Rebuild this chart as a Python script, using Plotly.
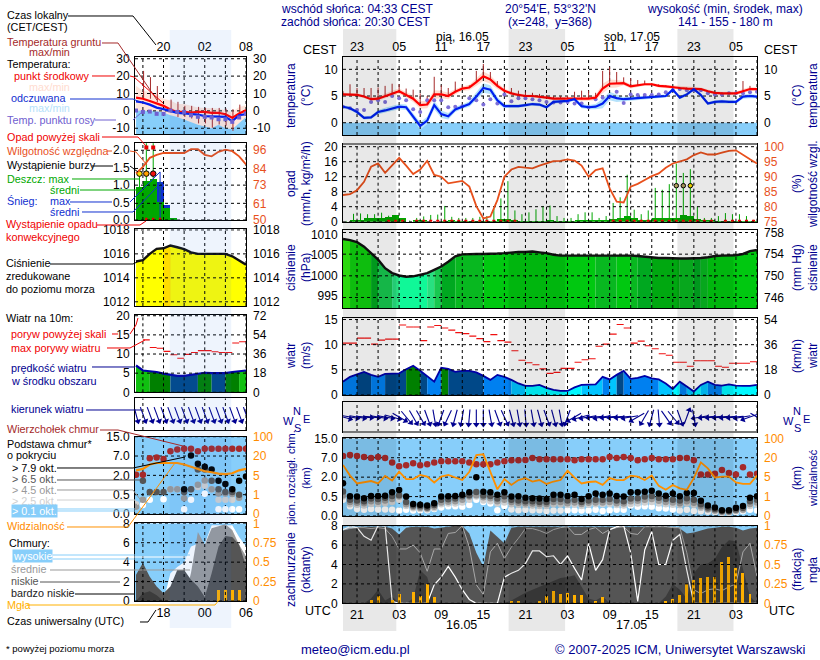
import numpy as np
import plotly.graph_objects as go

# ---------- main panel data (hourly, hour 0 = 19 UTC 15.05) ----------
t_mid = [5.3,5.3,5.2,4.9,4.4,4.5,5.0,5.5,5.9,5.2, 4.5,3.3,3.4,5.3,5.3,5.0,5.8,6.4,6.6,7.6,
         8.7,8.1,6.9,6.0,5.5,5.2,5.0,5.0,4.9,4.7, 4.5,4.5,4.4,4.4,4.4,4.5,4.7,6.4,7.3,7.3,
         7.4,6.8,7.0,7.2,7.2,6.9,6.8,6.6,6.5,6.4, 6.3,6.3,5.9,5.6,5.5,5.5,5.5,5.9,6.3,6.3]
t_felt = [3.0,2.7,2.0,0.9,1.0,2.0,2.3,2.7,3.0,2.9, 1.2,-0.6,0.4,3.3,1.6,1.2,2.5,3.0,3.5,4.9,
          6.5,6.2,4.2,3.1,3.1,3.1,3.3,3.5,3.4,2.9, 3.9,4.0,4.1,4.4,3.1,2.9,3.0,3.6,5.0,4.6,
          4.4,4.5,4.6,4.7,4.8,4.9,5.0,6.2,4.7,5.3, 6.3,5.2,3.6,3.9,4.0,3.9,3.9,4.9,5.0,4.9]
t_dew = [3.0,2.7,2.4,2.4,3.9,4.2,3.9,5.0,4.6,4.2, 2.5,2.0,4.2,4.2,4.2,2.9,3.0,3.1,4.6,4.2,
         3.4,4.4,3.6,5.3,4.0,4.6,4.6,4.4,4.2,3.9, 3.8,3.8,3.9,3.6,3.6,2.9,4.4,4.7,4.9,5.8,
         3.7,5.3,5.2,5.2,5.2,5.3,5.7,6.1,6.3,6.1, 6.1,6.1,5.5,5.3,5.3,5.5,5.5,5.5,5.7,5.8]
t_ground = [5.9,7.2,6.5,6.5,6.5,6.6,6.9,7.3,7.2,6.4, 6.2,5.5,5.0,8.6,7.0,6.5,7.7,7.0,7.0,9.7,
            11.0,9.5,7.8,6.8,6.5,6.0,5.8,5.6,5.4,5.2, 5.0,5.0,5.0,5.8,6.0,6.0,5.6,9.7,10.4,9.5,
            8.5,8.3,8.0,7.9,7.4,7.2,7.0,6.7,6.7,6.6, 6.5,6.3,6.0,5.8,5.7,5.7,5.7,7.8,6.9,6.5]
t_spread = [0.3,0.3,0.3,0.3,0.3,0.4,0.5,0.5,0.5,0.5, 0.6,0.7,0.7,0.8,0.7,0.6,0.5,0.4,0.5,0.7,
            0.9,0.8,0.6,0.4,0.3,0.3,0.3,0.3,0.3,0.3, 0.3,0.3,0.3,0.3,0.4,0.4,0.5,0.9,0.8,0.7,
            0.4,0.4,0.3,0.3,0.3,0.3,0.3,0.3,0.3,0.3, 0.3,0.3,0.3,0.3,0.3,0.3,0.3,0.4,0.4,0.3]
rh = [83.9,84.2,85.5,88.3,93.3,94.4,91.3,93.7,96.3,93.7, 90.9,92.4,95.3,90.6,90.0,87.8,88.1,88.6,86.7,80.2,
      76.1,76.7,82.2,90.0,92.4,93.3,93.0,92.8,93.7,94.4, 95.2,95.3,95.8,95.4,93.7,90.0,92.2,92.8,86.1,81.7,
      81.4,86.7,87.6,88.9,90.2,91.1,93.0,94.4,95.0,95.8, 97.2,98.1,97.4,97.4,98.0,98.6,98.8,97.2,95.8,94.4]
rain_mean = [0,0.2,0.5,0.9,1.1,1.1,1.2,1.8,0.9,0, 0.2,0.2,0,0,0.1,0.2,0.1,0.1,0.1,0.1,
             0.1,0.1,0.6,0.6,0.4,0.1,0.1,0.1,0.1,0.3, 0.1,0.1,0.1,0.4,0.4,0.4,0.4,0.4,0.8,1.0,
             1.4,0.9,0.4,0.3,0.9,0.9,1.0,1.1,1.9,1.4, 0.7,0.3,0.2,0.1,0.1,0.1,0.1,0.1,0.1,0.1]
rain_max = [0.2,2.1,2.2,2.0,2.0,2.4,1.6,1.0,0.3,0.3, 1.0,1.4,1.8,1.9,4.2,1.3,1.0,1.0,1.0,1.3,
            1.5,3.5,6.2,10.8,3.0,2.0,2.5,3.3,4.2,4.3, 1.5,1.0,1.0,2.0,2.5,2.5,1.0,1.5,5.0,6.5,
            12.5,3.2,2.0,3.0,9.0,8.5,10.0,15.5,13.0,14.0, 4.0,1.0,1.0,1.5,2.3,2.0,2.0,1.5,0.5,0.3]
convective = [0,0,0,0,0,0,1,1,1,0, 1,1,1,1,1,1,1,1,1,1, 1,1,1,1,1,0,0,0,0,0,
              0,0,0,0,0,0,0,0,1,1, 1,1,1,1,1,1,1,1,1,1, 1,1,1,0,1,1,1,1,1,1]
pressure = [1009.0,1008.7,1008.2,1007.1,1005.5,1003.9,1001.8,1000.6,1000.0,999.7,
            999.8,1000.2,1000.6,1001.4,1002.2,1003.4,1004.7,1005.2,1005.3,1005.3,
            1005.3,1005.3,1005.4,1005.5,1005.7,1005.8,1005.8,1005.9,1005.7,1005.5,
            1005.1,1004.9,1004.9,1004.9,1004.9,1004.9,1004.9,1004.9,1005.0,1005.0,
            1005.0,1004.9,1004.8,1004.6,1004.4,1004.3,1004.3,1004.2,1004.2,1004.2,
            1004.2,1004.3,1004.5,1004.8,1004.9,1004.9,1005.0,1005.3,1006.0,1006.3]
pressure_col = [0,1,1,1,2,3,3,4,5,5, 5,5,4,3,2,2,6,6,6,6, 7,7,7,7,7,7,7,7,7,7,
                7,7,7,7,7,7,6,6,6,7, 7,6,2,2,8,8,8,8,6,6, 2,6,7,7,7,7,7,7,7,7]
wind = [2.65,3.6,4.1,4.6,4.0,3.6,4.2,4.2,4.3,5.1, 5.8,4.8,3.8,2.65,5.4,5.2,4.6,4.8,4.8,4.5,
        3.8,3.0,4.0,3.6,3.0,2.3,1.8,1.8,2.0,1.4, 1.0,0.8,0.8,1.5,2.0,2.0,2.1,3.6,3.1,4.0,
        4.8,3.2,3.4,3.8,3.3,3.1,2.3,1.2,2.65,1.7, 0.7,2.0,2.65,2.0,1.85,2.1,1.85,1.8,1.8,2.0]
wind_col = [2,2,3,3,2,2,3,3,3,4, 4,3,2,2,4,3,3,3,3,3, 2,2,2,2,1,1,0,0,0,0,
            0,0,0,0,1,1,1,2,1,3, 2,2,2,2,2,1,1,0,2,1, 0,1,2,2,0,0,0,0,0,0]
gust = [10.3,10.3,11.3,11.3,10.1,10.9,11.1,11.1,13.9,13.5, 13.5,10.8,13.5,13.8,13.3,12.9,12.4,12.2,11.7,11.2,
        10.6,12.0,10.8,10.5,8.8,6.9,6.4,6.0,5.2,4.3, 4.5,5.3,5.3,6.5,7.0,7.2,9.7,10.1,12.1,14.0,
        13.3,10.3,10.7,9.8,9.2,8.2,7.9,6.5,6.5,5.7, 6.8,6.8,6.8,5.7,5.5,6.3,6.3,6.3,6.6,6.6]
wind_dir = [285,280,280,275,275,280,280,285,300,320, 330,330,340,350,20,25,15,10,5,0,
            0,350,340,335,345,350,355,350,345,340, 345,350,20,60,75,80,85,80,85,85,
            85,80,60,30,15,355,325,320,340,200, 350,80,85,85,85,85,85,80,70,300]
cloud_top = [7.7,8.1,7.7,7.3,6.95,7.3,6.95,5.8,4.8,5.05, 5.55,5.05,5.3,5.8,6.1,6.1,6.1,6.1,5.8,5.3,
             5.3,5.3,5.8,6.1,6.35,6.35,6.4,6.95,6.6,6.6, 6.6,6.6,6.6,6.35,6.6,6.6,6.6,6.6,7.3,6.95,
             7.3,6.95,6.35,6.6,6.95,6.6,6.6,6.6,6.95,6.95, 6.35,2.65,2.65,2.9,3.85,3.05,2.65,4.55,2.65,2.9]
base_79 = [1.52,0.52,0.50,0.455,0.54,0.54,0.56,0.83,1.01,0.50, 0.31,0.29,0.27,0.33,0.51,0.52,0.54,0.65,0.83,2.0,
           0.88,0.83,0.65,0.83,0.51,0.52,0.47,0.455,0.45,0.44, 0.65,0.65,0.54,0.65,0.44,0.52,0.73,0.65,0.73,0.54,
           0.50,0.83,0.83,0.88,0.95,0.73,0.56,0.73,0.52,0.77, 0.77,0.39,0.27,0.22,0.15,0.15,0.21,0.26,0.47,0.52]
base_65 = [0.90,0.42,0.40,0.38,0.45,0.44,0.47,0.55,0.60,0.36, 0.27,0.25,0.22,0.28,0.42,0.43,0.45,0.52,0.60,0.85,
           0.58,0.55,0.45,0.52,0.42,0.40,0.38,0.38,0.36,0.36, 0.44,0.44,0.40,0.42,0.36,0.40,0.42,0.42,0.44,0.40,
           0.38,0.45,0.46,0.50,0.55,0.47,0.44,0.42,0.40,0.46, 0.42,0.30,0.22,0.18,0.13,0.13,0.17,0.21,0.38,0.42]
base_45 = [0.60,0.36,0.34,0.33,0.38,0.37,0.40,0.44,0.50,0.30, 0.23,0.21,0.19,0.24,0.35,0.37,0.38,0.42,0.50,0.60,
           0.48,0.46,0.38,0.42,0.36,0.34,0.33,0.32,0.31,0.31, 0.36,0.36,0.33,0.35,0.31,0.34,0.35,0.35,0.36,0.33,
           0.32,0.38,0.39,0.42,0.44,0.39,0.36,0.35,0.33,0.38, 0.34,0.25,0.18,0.15,0.11,0.11,0.14,0.17,0.31,0.35]
base_25 = [0.50,0.30,0.29,0.27,0.31,0.31,0.33,0.36,0.42,0.26, 0.20,0.18,0.17,0.20,0.30,0.32,0.32,0.35,0.42,0.50,
           0.40,0.38,0.32,0.35,0.30,0.29,0.28,0.27,0.26,0.26, 0.30,0.30,0.28,0.29,0.26,0.29,0.30,0.30,0.31,0.28,
           0.27,0.31,0.32,0.35,0.36,0.32,0.30,0.29,0.28,0.32, 0.28,0.21,0.16,0.13,0.09,0.09,0.12,0.15,0.26,0.29]
base_01 = [0.42,0.25,0.18,0.16,0.18,0.17,0.17,0.16,0.14,0.16, 0.14,0.15,0.15,0.18,0.22,0.25,0.25,0.24,0.28,0.42,
           0.36,0.32,0.15,0.26,0.17,0.15,0.16,0.15,0.15,0.13, 0.14,0.14,0.15,0.15,0.14,0.14,0.16,0.13,0.15,0.16,
           0.16,0.27,0.24,0.25,0.24,0.20,0.19,0.17,0.14,0.16, 0.13,0.12,0.11,0.10,0.08,0.08,0.10,0.12,0.16,0.14]
visibility = [14.4,6.2,3.7,3.9,4.2,3.7,5.9,4.3,9.2,4.6, 4.6,6.7,5.4,3.9,5.4,6.7,5.0,4.4,9.2,31.0,
              34.0,9.2,2.5,4.6,3.4,4.4,4.8,4.1,4.4,3.6, 4.1,4.4,10.0,4.9,3.7,4.0,4.1,3.4,4.8,4.4,
              4.4,6.2,5.4,4.4,6.2,3.2,2.4,3.4,2.7,2.4, 4.8,16.4,11.8,4.9,5.4,5.4,3.9,3.6,3.6,6.2]
cloud_low = [7.5,7.7,7.9,7.9,7.9,7.9,7.9,7.7,7.1,7.8, 7.9,7.9,7.9,7.7,7.8,7.9,8.0,8.0,7.2,5.2,
             3.8,7.5,6.9,6.2,7.8,7.9,7.9,7.9,7.9,7.9, 7.9,7.9,7.9,7.9,7.9,7.9,7.9,7.9,7.9,7.9,
             7.9,7.9,7.9,7.9,7.9,7.9,7.9,7.9,7.7,7.2, 7.3,7.5,7.7,7.8,7.9,7.9,7.8,7.5,7.7,7.8]
cloud_high = [7.6,7.9,7.8,6.9,6.5,8.0,8.0,0.2,0,0, 0,0,0,1.9,2.7,3.8,2.7,1.4,0.4,0,
              0,0,0,2.7,3.1,3.4,4.1,5.4,5.4,4.8, 4.9,4.0,4.9,3.6,2.4,6.2,3.4,4.5,7.6,7.9,
              8.0,5.2,0.2,5.5,7.4,4.0,4.0,6.5,7.1,3.4, 0,0,0,0,0,0,0,0,0,0]
cloud_mid = [7.6,7.7,7.8,7.8,7.7,7.8,7.7,6.9,5.6,5.6, 6.0,5.2,3.3,5.6,5.6,7.2,7.3,8.0,5.8,1.9,
             0.9,5.3,6.2,4.6,5.8,6.7,7.7,7.7,7.5,7.2, 7.6,7.8,7.9,7.1,7.1,7.6,7.8,7.2,7.6,7.8,
             7.9,7.2,7.1,7.9,7.9,7.9,7.9,7.8,7.8,5.2, 1.4,1.0,1.4,1.5,1.3,1.7,2.0,5.3,6.2,2.8]
cloud_vlow = [0,0,0,0,0.5,1.4,0.3,0.7,0,0, 0.5,3.4,2.7,0,0,0,0,0,0,0,
              0,0,0,0,0.3,0.7,1.1,1.4,1.7,2.0, 2.3,2.6,2.7,2.9,1.7,0.5,0.3,0.7,0,0,
              0,0,0,0,0,0,0.7,2.0,1.4,0.5, 3.1,4.0,4.1,4.6,5.8,6.5,6.4,3.4,0.7,0]
fog = [0,0,0,0,0.05,0.1,0,0.05,0.13,0, 0.15,0.1,0.25,0.08,0,0,0,0,0,0,
       0,0,0,0,0.04,0.04,0,0,0.04,0.1, 0.16,0.12,0.14,0.11,0.11,0,0.04,0.09,0,0,
       0,0,0,0,0,0,0.03,0.06,0.11,0.25, 0.3,0.33,0.34,0.34,0.54,0.6,0.46,0.4,0.12,0]

# ---------- left (legend) panel data, hours 14..30 UTC ----------
l_mid = [7.6,7.0,5.7,4.2,2.9,0.8,-0.6,-0.6,-1.0,-0.6,-0.6,-1.1,-1.1,-1.9,-4.0,-1.5,0.4]
l_felt = [5.5,4.8,3.6,1.9,1.0,-0.2,-1.1,-1.5,-1.9,-2.1,-3.0,-3.0,-3.4,-3.4,-5.9,-2.5,-1.9]
l_dew = [0.2,-0.6,-0.4,-1.7,-1.7,0.2,-0.6,-0.6,-2.5,-3.4,-3.4,-3.8,-4.8,-4.8,-6.3,-3.8,-1.5]
l_top = [14.5,11.5,11.0,9.6,7.0,6.0,4.0,4.0,3.0,2.0,1.7,1.3,1.3,0.4,-0.6,2.3,3.2]
l_bottom = [0.2,0.2,0.2,-0.2,-1.0,-2.5,-3.5,-5.0,-6.7,-8.0,-9.0,-10.0,-8.0,-10.0,-10.5,-7.0,-3.5]
l_gmax = [None,23.0,19.4,14.3,None,6.5,5.2,2.9,2.9,2.3,1.7,1.7,1.7,1.3,1.0,3.6,None]
l_gmin = [None,7.4,7.0,5.0,None,-1.0,-3.5,-3.5,-4.4,-7.2,-7.2,-9.7,-7.8,-8.5,-11.5,-4.0,None]
l_rh = [80.7,85.0,91.0,93.0,94.2,94.2,94.2,94.2,96.7,96.7,93.0,92.0,95.0,96.4,95.4,92.0,86.6]
l_rain = [0.93,1.10,1.17,0.5,0.33,0.05,0,0,0,0,0,0,0,0,0,0,0]
l_snow = [0,0,0,0.58,0.10,0,0,0,0,0,0,0,0,0,0,0,0]
l_rain_max = [1.33,2.3,2.3,1.1]
l_snow_max = [0,0,0,1.38]
l_pressure = [1015.36,1015.47,1016.0,1016.42,1016.47,1016.7,1016.55,1016.4,1016.13,1016.0,1016.0,1016.0,1016.0,1016.0,1015.8,1015.45,1015.1]
l_wind = [7.0,5.7,5.5,5.3,4.9,4.5,4.3,4.3,4.6,5.0,5.1,5.0,5.0,5.0,5.3,5.5,5.7]
l_wind_col = [5,5,4,4,4,3,3,3,3,4,4,3,3,4,4,5]
l_gust = [None,13.7,11.7,11.5,10.7,9.8,8.9,9.9,10.4,10.9,10.9,10.6,10.4,10.4,12.9,13.2]
l_dir = [345,340,340,340,340,340,340,340,340,340,340,340,340,340,340,340,340]
l_tops = [2.15,2.15,6.45,6.6,6.25,9.0,9.7,10.0,10.0,9.0,10.0,10.0,10.0,10.0,10.0,10.0,10.0]
l_79 = [None,None,None,None,None,None,None,0.93,7.2,5.0,4.2,3.5,1.58,1.32,0.93,1.58,1.92]
l_65 = [None,1.58,0.70,0.70,0.70,None,None,0.70,0.93,3.5,3.5,1.58,0.93,0.70,0.70,0.50,None]
l_45 = [0.19,0.37,None,None,None,0.93,0.93,0.41,0.93,1.27,1.6,0.93,0.60,0.60,0.55,0.42,None]
l_25 = [0.25,None,None,None,None,0.93,0.93,None,None,1.10,1.2,0.93,0.37,0.37,0.37,0.42,None]
l_01 = [None,0.23,0.37,None,0.38,None,None,0.12,0.37,None,0.58,None,0.12,0.12,0.12,0.12,None]
l_vis = [8.9,10.0,13.4,14.6,14.6,14.6,14.6,13.4,11.5,10.0,8.2,7.4,6.3,6.0,6.6,8.9,10.0]
l_high = [0,0,0,0,0,2.85,3.5,4.0,5.6,5.9,5.9,7.8,7.8,7.8,7.8,6.6,5.6]
l_cmid = [0,0,0,0,0,0,0,0,2.9,7.1,5.8,7.5,7.7,7.9,7.3,5.8,4.6]
l_low = [2.7,3.9,2.5,1.5,0.8,1.5,3.2,3.2,2.2,1.5,0.4,2.85,5.6,6.7,6.6,5.8,3.6]
l_vlow = [0,0.8,1.0,0.6,0,0,0,0,0,0,0,0,0,0,0,0,0]
l_fog = [0,0,0,0,0,0,0,0,0,0,0,0,0.14,0.14,0.14,0.14,0]

# tick labels
cest_ticks = ["23","05","11","17","23","05","11","17","23","05"]
utc_ticks = ["21","03","09","15","21","03","09","15","21","03"]
base_levels_km = [0,0.5,2,7,15]
vis_levels_km = [0,1,5,20,100]

FONT = "Liberation Sans"
NAVY = "#000090"
W, H = 820, 660
HOURS = list(range(60))
LHOURS = list(range(14, 31))
fig = go.Figure()
layout = {}
shapes = []
notes = []
_n = [0]

def X(x): return x / W
def Y(y): return 1 - y / H

def lvl(v):
    return [None if a is None else float(np.interp(a, base_levels_km, range(5))) for a in v]
def vlvl(v):
    return [float(np.interp(a, vis_levels_km, range(5))) for a in v]

class P:
    pass

def panel(x0, x1, y0, y1, xr, yr, rr, xv=None, yv=None, yt=None, rv=None, rt=None,
          rcolor="black", lcolor="black", xside=None, xtv=None, xtt=None):
    p = P()
    _n[0] += 1
    k = _n[0]
    p.k, p.r = k, k + 100
    p.xa = "x" if k == 1 else f"x{k}"
    p.ya = "y" if k == 1 else f"y{k}"
    p.yb = f"y{p.r}"
    p.xr, p.yr, p.rr = xr, yr, rr
    p.xv, p.rv = xv or [], rv or []
    xkw = dict(domain=[X(x0), X(x1)], range=xr, anchor=p.ya, showgrid=False, zeroline=False,
               showline=True, mirror=True, linecolor="black", linewidth=1, ticks="",
               showticklabels=False, layer="above traces", automargin=False)
    if xside:
        xkw.update(side=xside, showticklabels=True, tickmode="array", tickvals=xtv, ticktext=xtt,
                   tickfont=dict(family=FONT, size=12.5, color="black"), ticklabelstandoff=0)
    layout["xaxis" if k == 1 else f"xaxis{k}"] = xkw
    layout["yaxis" if k == 1 else f"yaxis{k}"] = dict(
        domain=[Y(y1), Y(y0)], range=yr, anchor=p.xa, showgrid=False, zeroline=False, automargin=False,
        showline=True, mirror=True, linecolor="black", linewidth=1, ticks="", layer="above traces",
        showticklabels=yv is not None, tickmode="array", tickvals=yv or [], ticktext=yt or [],
        tickfont=dict(family=FONT, size=12, color=lcolor), ticklabelstandoff=2)
    layout[f"yaxis{p.r}"] = dict(
        domain=[Y(y1), Y(y0)], range=rr, anchor=p.xa, overlaying=p.ya, side="right", automargin=False,
        showgrid=False, zeroline=False, ticks="", showline=False,
        showticklabels=rv is not None, tickmode="array", tickvals=rv or [], ticktext=rt or [],
        tickfont=dict(family=FONT, size=12, color=rcolor), ticklabelstandoff=6)
    return p

def S(p, right=False, **kw):
    kw.setdefault("showlegend", False)
    kw.setdefault("hoverinfo", "skip")
    kw.setdefault("mode", "lines")
    fig.add_trace(go.Scatter(xaxis=p.xa, yaxis=p.yb if right else p.ya, **kw))

def grid(p):
    xs, ys = [], []
    for v in p.xv:
        xs += [v, v, None]; ys += [p.rr[0], p.rr[1], None]
    for v in p.rv:
        xs += [p.xr[0], p.xr[1], None]; ys += [v, v, None]
    S(p, right=True, x=xs, y=ys, line=dict(color="black", width=1, dash="3px,3px"))

def bar(p, x, y, color, width=1.0, right=False, base=None):
    fig.add_trace(go.Bar(x=x, y=y, base=base, width=width, marker=dict(color=color, line=dict(width=0)),
                         xaxis=p.xa, yaxis=p.yb if right else p.ya, showlegend=False, hoverinfo="skip"))

def band(p, hi, lo, color, xs):
    S(p, x=list(xs) + list(xs)[::-1], y=list(hi) + list(lo)[::-1], fill="toself", fillcolor=color, line=dict(width=0))

def colored_area(p, xs, ys, cols, palette, floor):
    i = 0
    while i < len(cols):
        j = i
        while j + 1 < len(cols) and cols[j + 1] == cols[i]:
            j += 1
        sx = xs[i:j + 2]
        sy = ys[i:j + 2]
        S(p, x=sx + sx[::-1], y=sy + [floor] * len(sy), fill="toself",
          fillcolor=palette[cols[i]], line=dict(width=0))
        i = j + 1

def segs(xs, v, w=1):
    ox, oy = [], []
    for x, a in zip(xs, v):
        if a is None:
            continue
        ox += [x, x + w, None]; oy += [a, a, None]
    return ox, oy

def stems(xs, a, b):
    ox, oy = [], []
    for x, p1, p2 in zip(xs, a, b):
        if p1 is None or p2 is None:
            continue
        ox += [x, x, None]; oy += [p1, p2, None]
    return ox, oy

def arrows(p, xs, dirs, ppx, L=15):
    # arrows are centred on their hour; the head points where the wind blows to
    ox, oy, hx, hy = [], [], [], []
    for x, d in zip(xs, dirs):
        dx = (L / 2) * np.sin(np.radians(d)) / ppx
        dy = (L / 2) * np.cos(np.radians(d))
        ox += [x + dx, x - dx, None]
        oy += [dy, -dy, None]
        hx.append(x - dx)
        hy.append(-dy)
    S(p, x=ox, y=oy, line=dict(color=NAVY, width=1.1), cliponaxis=False)
    S(p, x=hx, y=hy, mode="markers", cliponaxis=False,
      marker=dict(symbol="triangle-up", size=6, color=NAVY, angle=[d + 180 for d in dirs]))

def base_dots(p, xs, series, size=6.5):
    cols = ["white", "#d0d0d0", "#999999", "#555555", "black"]
    for v, c in zip(series, cols):
        S(p, right=True, x=xs, y=lvl(v), mode="markers", marker=dict(size=size, color=c), connectgaps=False)

# -------------------- main column --------------------
MX0, MX1 = 343, 757
xt = list(range(2, 60, 3))
xl_top = [cest_ticks[i // 2] if i % 2 == 0 else "" for i in range(len(xt))]
xl_bot = [utc_ticks[i // 2] if i % 2 == 0 else "" for i in range(len(xt))]
xr = [0, 59]

# temperature
p = panel(MX0, MX1, 57.3, 135, xr, [-2.3, 12.25], [-2.3, 12.25], xv=xt,
          yv=[0, 5, 10], yt=["0", "5", "10"], rv=[0, 5, 10], rt=["0", "5", "10"],
          xside="top", xtv=xt, xtt=xl_top)
S(p, x=[0, 59, 59, 0], y=[0, 0, -2.3, -2.3], fill="toself", fillcolor="#87CEFA", line=dict(width=0))
band(p, [a + s for a, s in zip(t_mid, t_spread)], [a - s for a, s in zip(t_mid, t_spread)], "#ffdcd0", HOURS)
band(p, [a + s for a, s in zip(t_felt, t_spread)], [a - s for a, s in zip(t_felt, t_spread)], "#b5e2fb", HOURS)
grid(p)
gx, gy = stems(HOURS, t_mid, t_ground)
S(p, right=True, x=gx, y=gy, line=dict(color="#a52a2a", width=1))
S(p, right=True, x=HOURS, y=t_dew, mode="markers", marker=dict(size=4, color="#7d6fd8"))
S(p, right=True, x=HOURS, y=t_mid, line=dict(color="#ff0000", width=2.2))
S(p, right=True, x=HOURS, y=t_felt, line=dict(color="#0020f0", width=2.2))

# precipitation / humidity
H1 = [h + 0.5 for h in HOURS]
p = panel(MX0, MX1, 144, 221.7, xr, [0, 20.7], [75, 100.9], xv=xt,
          yv=[0, 4, 8, 12, 16, 20], yt=["0", "4", "8", "12", "16", "20"],
          rv=[75, 80, 85, 90, 95, 100], rt=["75", "80", "85", "90", "95", "100"], rcolor="#e8501c")
bar(p, H1, rain_mean, "#00a800")
gx, gy = stems(H1, [0] * 60, rain_max)
S(p, x=gx, y=gy, line=dict(color="#00a800", width=1))
S(p, x=[h for h, c in zip(H1, convective) if c], y=[0.15 for c in convective if c], mode="markers",
  marker=dict(symbol="square", size=3, color="#e80000"))
grid(p)
S(p, right=True, x=HOURS, y=rh, line=dict(color="#e8501c", width=1.8))
S(p, right=True, x=[47.5, 48.5, 49.5], y=[87, 87, 87], mode="markers",
  marker=dict(size=4.5, color=["#b0a060", "#b0a060", "#ffe000"], line=dict(color="black", width=1)))

# pressure
p_col = ["#30ee10", "#10d010", "#00a820", "#18c850", "#28e080", "#10f898", "#08b820", "#00c810", "#00a810"]
mm = lambda a: a * 0.75006
p = panel(MX0, MX1, 230, 308, xr, [992, 1011.2], [mm(992), mm(1011.2)], xv=xt,
          yv=[995, 1000, 1005, 1010], yt=["995", "1000", "1005", "1010"],
          rv=[746, 750, 754, 758], rt=["746", "750", "754", "758"])
colored_area(p, HOURS, pressure, pressure_col, p_col, 992)
grid(p)
S(p, x=HOURS, y=pressure, line=dict(color="#111111", width=2.4))

# wind
w_col = ["#00f8ff", "#00c4ff", "#0080f0", "#004888", "#008000", "#10c010"]
p = panel(MX0, MX1, 317.7, 395, xr, [0, 15.36], [0, 55.3], xv=xt,
          yv=[0, 5, 10, 15], yt=["0", "5", "10", "15"], rv=[0, 18, 36, 54], rt=["0", "18", "36", "54"])
colored_area(p, HOURS, wind, wind_col, w_col, 0)
grid(p)
S(p, x=HOURS, y=wind, line=dict(color="#0000a8", width=1.8))
gx, gy = segs(HOURS, gust)
S(p, x=gx, y=gy, line=dict(color="#f01010", width=1.1))

# wind direction
p = panel(MX0, MX1, 402, 432, xr, [-15, 15], [-15, 15], xv=xt)
grid(p)
arrows(p, HOURS, wind_dir, (MX1 - MX0) / 59, L=15)

# cloud base
p = panel(MX0, MX1, 438.3, 516, xr, [0, 4], [0, 4], xv=xt,
          yv=[0, 1, 2, 3, 4], yt=["0.0", "0.5", "2.0", "7.0", "15.0"],
          rv=[0, 1, 2, 3, 4], rt=["0", "1", "5", "20", "100"], rcolor="#ff8c00")
S(p, x=[0, 59, 59, 0], y=[0, 0, 4, 4], fill="toself", fillcolor="#87CEFA", line=dict(width=0))
grid(p)
base_dots(p, HOURS, [base_01, base_25, base_45, base_65, base_79])
S(p, right=True, x=HOURS, y=lvl(cloud_top), mode="markers", marker=dict(size=6.5, color="#a52a2a"))
S(p, right=True, x=HOURS, y=vlvl(visibility), line=dict(color="#ff9000", width=1.8))

# cloud cover / fog
p = panel(MX0, MX1, 525.7, 603.3, xr, [0, 8], [0, 1], xv=xt,
          yv=[0, 2, 4, 6, 8], yt=["0", "2", "4", "6", "8"],
          rv=[0, 0.25, 0.5, 0.75, 1], rt=["0", "0.25", "0.5", "0.75", "1"], rcolor="#ff8c00",
          xside="bottom", xtv=xt, xtt=xl_bot)
S(p, x=[0, 59, 59, 0], y=[0, 0, 8, 8], fill="toself", fillcolor="#87CEFA", line=dict(width=0))
S(p, x=HOURS + [59, 0], y=cloud_low + [0, 0], fill="toself", fillcolor="#555555", line=dict(width=0))
S(p, x=HOURS + [59, 0], y=cloud_vlow + [0, 0], fill="toself", fillcolor="#3c3c3c", line=dict(width=0))
S(p, x=HOURS, y=cloud_mid, line=dict(color="#a8a8a8", width=1))
S(p, x=HOURS, y=cloud_high, line=dict(color="white", width=1.2))
grid(p)
bar(p, HOURS, fog, "#ffb000", width=0.42, right=True)

# -------------------- left column --------------------
LX0, LX1 = 135, 246
lr = [13.85, 30]
lxt = [15, 18, 21, 24, 27, 30]
LB = [h + 0.5 for h in LHOURS[:-1]]

p = panel(LX0, LX1, 57, 134, lr, [-13.3, 31], [-13.3, 31], xv=lxt,
          yv=[-10, 0, 10, 20, 30], yt=["-10", "0", "10", "20", "30"],
          rv=[-10, 0, 10, 20, 30], rt=["-10", "0", "10", "20", "30"],
          xside="top", xtv=[18, 24, 30], xtt=["20", "02", "08"])
band(p, l_top, [-13.3] * 17, "#ffe6dc", LHOURS)
band(p, l_bottom, [-13.3] * 17, "#87CEFA", LHOURS)
grid(p)
gx, gy = stems([h + 0.1 for h in LHOURS], l_gmin, l_gmax)
S(p, right=True, x=gx, y=gy, line=dict(color="#a52a2a", width=1))
S(p, right=True, x=LHOURS, y=l_mid, line=dict(color="#ff0000", width=2.2))
S(p, right=True, x=LHOURS, y=l_felt, line=dict(color="#0020f0", width=2.2))
S(p, right=True, x=LHOURS, y=l_dew, mode="markers", marker=dict(symbol="square", size=4, color="#7060d0"))

p = panel(LX0, LX1, 143.3, 220, lr, [0, 2.2], [50, 100.6], xv=lxt,
          yv=[0, 0.5, 1, 1.5, 2], yt=["0.0", "0.5", "1.0", "1.5", "2.0"],
          rv=[50, 61, 73, 84, 96], rt=["50", "61", "73", "84", "96"], rcolor="#e8501c")
bar(p, LB, l_rain[:-1], "#00a800")
bar(p, LB, l_snow[:-1], "#1030d0", base=[a for a in l_rain[:-1]])
gx, gy = stems(LB[:4], [0] * 4, l_rain_max)
S(p, x=gx, y=gy, line=dict(color="#00a800", width=1))
gx, gy = stems(LB[:4], [0] * 4, l_snow_max)
S(p, x=gx, y=gy, line=dict(color="#1030d0", width=1))
S(p, x=LB[1:4], y=[0.03] * 3, mode="markers", marker=dict(symbol="square", size=2.5, color="#e80000"))
grid(p)
S(p, right=True, x=LHOURS, y=l_rh, line=dict(color="#e8501c", width=1.8))
S(p, x=LB[1:3], y=[2.08, 2.08], mode="markers", marker=dict(symbol="square", size=4, color="#e80000"))
S(p, x=LB[:3], y=[1.33] * 3, mode="markers",
  marker=dict(size=5.5, color=["#ffe000", "#ffa000", "#f01010"], line=dict(color="black", width=1)))

p = panel(LX0, LX1, 229.3, 306, lr, [1011.65, 1018.05], [1011.65, 1018.05], xv=lxt,
          yv=[1012, 1014, 1016, 1018], yt=["1012", "1014", "1016", "1018"],
          rv=[1012, 1014, 1016, 1018], rt=["1012", "1014", "1016", "1018"])
S(p, x=LHOURS + [30, 14], y=l_pressure + [1011.65, 1011.65], fill="toself", fillcolor="#ffff00", line=dict(width=0))
S(p, x=[18, 19, 19, 18], y=l_pressure[4:6] + [1011.65, 1011.65], fill="toself", fillcolor="#ffdc00", line=dict(width=0))
grid(p)
S(p, x=LHOURS, y=l_pressure, line=dict(color="#111111", width=2.4))

p = panel(LX0, LX1, 315, 392.3, lr, [0, 20.2], [0, 72.7], xv=lxt,
          yv=[0, 5, 10, 15, 20], yt=["0", "5", "10", "15", "20"],
          rv=[0, 18, 36, 54, 72], rt=["0", "18", "36", "54", "72"])
colored_area(p, LHOURS, l_wind, l_wind_col, w_col, 0)
grid(p)
S(p, x=LHOURS, y=l_wind, line=dict(color="#0000a8", width=2.2))
gx, gy = segs(LHOURS, l_gust)
S(p, x=gx, y=gy, line=dict(color="#f01010", width=1.1))

p = panel(LX0, LX1, 398.3, 430, lr, [-16, 16], [-16, 16], xv=lxt)
grid(p)
arrows(p, LHOURS, l_dir, (LX1 - LX0) / 16.15, L=15)

p = panel(LX0, LX1, 436.7, 514, lr, [0, 4], [0, 4], xv=lxt,
          yv=[0, 1, 2, 3, 4], yt=["0.0", "0.5", "2.0", "7.0", "15.0"],
          rv=[0, 1, 2, 3, 4], rt=["0", "1", "5", "20", "100"], rcolor="#ff8c00")
S(p, x=[13.85, 30, 30, 13.85], y=[0, 0, 4, 4], fill="toself", fillcolor="#87CEFA", line=dict(width=0))
grid(p)
base_dots(p, LHOURS, [l_01, l_25, l_45, l_65, l_79])
S(p, right=True, x=LHOURS, y=lvl(l_tops), mode="markers", marker=dict(size=6.5, color="#a52a2a"))
S(p, right=True, x=LHOURS, y=vlvl(l_vis), line=dict(color="#ff9000", width=2.2))

p = panel(LX0, LX1, 523.3, 601, lr, [0, 8], [0, 1], xv=lxt,
          yv=[0, 2, 4, 6, 8], yt=["0", "2", "4", "6", "8"],
          rv=[0, 0.25, 0.5, 0.75, 1], rt=["0", "0.25", "0.5", "0.75", "1"], rcolor="#ff8c00",
          xside="bottom", xtv=[18, 24, 30], xtt=["18", "00", "06"])
S(p, x=[13.85, 30, 30, 13.85], y=[0, 0, 8, 8], fill="toself", fillcolor="#87CEFA", line=dict(width=0))
S(p, x=LHOURS + [30, 14], y=l_high + [0, 0], fill="toself", fillcolor="white", line=dict(width=0))
S(p, x=LHOURS + [30, 14], y=l_cmid + [0, 0], fill="toself", fillcolor="#9c9c9c", line=dict(width=0))
S(p, x=LHOURS + [30, 14], y=l_low + [0, 0], fill="toself", fillcolor="#555555", line=dict(width=0))
S(p, x=LHOURS + [30, 14], y=l_vlow + [0, 0], fill="toself", fillcolor="#3c3c3c", line=dict(width=0))
grid(p)
bar(p, LHOURS, l_fog, "#ffb000", width=0.42, right=True)

# -------------------- background bands --------------------
for a, b in [(0, 7.6), (23.6, 31.65), (47.65, 55.65)]:
    shapes.append(dict(type="rect", xref="x", yref="paper", x0=a, x1=b, y0=Y(631), y1=Y(29),
                       fillcolor="rgba(0,0,0,0.09)", line=dict(width=0), layer="above"))
shapes.append(dict(type="rect", xref="x8", yref="paper", x0=18.9, x1=27.85, y0=Y(628), y1=Y(30),
                   fillcolor="rgba(40,110,230,0.08)", line=dict(width=0), layer="above"))

# -------------------- texts --------------------
def note(x, y, t, color="black", size=12, anchor="left", angle=0, bg=None, family=FONT):
    notes.append(dict(x=X(x), y=Y(y), xref="paper", yref="paper", text=t, showarrow=False,
                      xanchor=anchor, yanchor="middle", textangle=angle, borderpad=0,
                      bgcolor=bg, font=dict(family=family, size=size, color=color)))

note(280, 9, "wschód słońca: 04:33 CEST", NAVY)
note(280, 22, "zachód słońca: 20:30 CEST", NAVY)
note(550, 9, "20°54'E, 53°32'N", NAVY, anchor="center")
note(550, 22, "(x=248,  y=368)", NAVY, anchor="center")
note(725, 9, "wysokość (min, środek, max)", NAVY, anchor="center")
note(725, 22, "141 - 155 - 180 m", NAVY, anchor="center")
note(463, 37, "pią, 16.05", anchor="center")
note(632, 37, "sob, 17.05", anchor="center")
note(320, 50, "CEST", anchor="center", size=12.5)
note(781, 50, "CEST", anchor="center", size=12.5)
note(318, 611, "UTC", anchor="center", size=12.5)
note(782, 611, "UTC", anchor="center", size=12.5)
note(462, 625, "16.05", anchor="center", size=12.5)
note(631, 625, "17.05", anchor="center", size=12.5)
note(355, 649, "meteo@icm.edu.pl", NAVY, anchor="center", size=13)
note(680, 649, "© 2007-2025 ICM, Uniwersytet Warszawski", NAVY, anchor="center", size=13)
note(5, 648, "* powyżej poziomu morza", size=9.5)

for a, b, c, yc, s in [("temperatura", "(°C)", "temperatura", 96, 12), ("opad", "(mm/h, kg/m²/h)", "wilgotność wzgl.", 184, 12),
                       ("ciśnienie", "(hPa)", "ciśnienie", 268, 12), ("wiatr", "(m/s)", "wiatr", 356, 12),
                       ("pion. rozciągł. chm.", "(km)", "widzialność", 478, 11), ("zachmurzenie", "(oktanty)", "mgła", 570, 12)]:
    note(291, yc, a, NAVY, anchor="center", angle=-90, size=s)
    note(306, yc, b, NAVY, anchor="center", angle=-90, size=s)
    note(813, yc, c, NAVY, anchor="center", angle=-90, size=s)
for b, yc in [("(°C)", 96), ("(%)", 184), ("(mm Hg)", 268), ("(km/h)", 356), ("(km)", 478), ("(frakcja)", 570)]:
    note(797, yc, b, NAVY, anchor="center", angle=-90, size=12)
for x in (296, 796):
    note(x - 8, 421, "W", NAVY, anchor="center", size=11)
    note(x + 1, 411, "N", NAVY, anchor="center", size=11)
    note(x + 1, 428, "S", NAVY, anchor="center", size=11)
    note(x + 10, 419, "E", NAVY, anchor="center", size=11)

BR = "#a52a2a"; RED = "#f00000"; ORG = "#e8501c"; GRN = "#00a800"; BLU = "#1030d0"; PUR = "#7060d0"
LS = 10.8
for x, y, t, c in [
    (6, 15, "Czas lokalny", "black"), (6, 27, "(CET/CEST)", "black"),
    (6, 42, "Temperatura gruntu", BR), (28, 52, "max/min", BR), (6, 64, "Temperatura:", "black"),
    (13, 76, "punkt środkowy", RED), (28, 87, "max/min", "#ffdcd0"), (10, 98, "odczuwana", BLU),
    (28, 108, "max/min", "#b5e2fb"), (6, 120, "Temp. punktu rosy", PUR), (6, 137, "Opad powyżej skali", RED),
    (6, 151, "Wilgotność względna", ORG), (6, 165, "Wystąpienie burzy", "black"), (6, 179, "Deszcz: max", GRN),
    (49, 190, "średni", GRN), (6, 201, "Śnieg:", BLU), (49, 201, "max", BLU), (49, 212, "średni", BLU),
    (5, 224, "Wystąpienie opadu", RED), (5, 237, "konwekcyjnego", RED), (5, 263, "Ciśnienie", "black"),
    (5, 276, "zredukowane", "black"), (5, 289, "do poziomu morza", "black"), (5, 318, "Wiatr na 10m:", "black"),
    (10, 334, "poryw powyżej skali", RED), (10, 348, "max porywy wiatru", RED), (10, 368, "prędkość wiatru", NAVY),
    (10, 381, "w środku obszaru", NAVY), (10, 409, "kierunek wiatru", NAVY), (6, 429, "Wierzchołek chmur", BR),
    (6, 444, "Podstawa chmur*", "black"), (6, 455, "o pokryciu", "black"), (11, 468, "> 7.9 okt.", "black"),
    (11, 479, "> 6.5 okt.", "#555555"), (11, 490, "> 4.5 okt.", "#999999"), (11, 501, "> 2.5 okt.", "#d0d0d0"),
    (6, 526, "Widzialność", "#ff8c00"), (8, 543, "Chmury:", "black"), (10, 569, "średnie", "#999999"),
    (10, 581, "niskie", "#555555"), (10, 593, "bardzo niskie", "#222222"), (6, 605, "Mgła", "#ffb000"),
    (6, 621, "Czas uniwersalny (UTC)", "black")]:
    note(x, y, t, c, size=LS)
note(11, 511, "> 0.1 okt.", "white", bg="#87CEFA", size=LS)
note(12, 556, "wysokie", "white", bg="#87CEFA", size=LS)

# -------------------- leader lines --------------------
def lead(points, color, width=1):
    d = "M " + " L ".join(f"{X(a):.5f},{Y(b):.5f}" for a, b in points)
    shapes.append(dict(type="path", xref="paper", yref="paper", path=d, line=dict(color=color, width=width), layer="above"))

lead([(68, 16), (133, 16), (156, 45)], "black")
lead([(102, 43), (118, 43), (157, 100)], BR)
lead([(92, 76), (115, 76)], RED); lead([(130, 76), (134, 77), (163, 103)], RED)
lead([(70, 99), (133, 99), (140, 102)], BLU)
lead([(95, 120), (116, 120)], PUR); lead([(133, 120), (142, 112)], PUR)
lead([(102, 137), (138, 137), (146, 146)], RED)
lead([(107, 151), (112, 151)], ORG); lead([(130, 151), (136, 152), (147, 165)], ORG)
lead([(92, 166), (113, 166)], "black"); lead([(130, 166), (138, 172)], "black")
lead([(72, 179), (139, 179)], GRN); lead([(80, 190), (140, 190)], GRN)
lead([(70, 202), (112, 202)], BLU); lead([(130, 202), (160, 172)], BLU)
lead([(82, 212), (133, 212), (160, 184)], BLU)
lead([(97, 225), (140, 225), (146, 221)], RED)
lead([(50, 264), (133, 264), (137, 262)], "black")
lead([(112, 334), (118, 334)], RED); lead([(130, 334), (136, 325), (138, 318)], RED)
lead([(107, 348), (130, 348), (145, 340)], RED)
lead([(92, 367), (135, 367)], NAVY)
lead([(86, 410), (141, 410)], NAVY)
lead([(100, 430), (118, 430), (183, 446)], BR)
lead([(57, 468), (133, 468), (185, 457)], "black")
lead([(57, 480), (143, 480)], "#555555")
lead([(57, 490), (133, 490), (143, 503)], "#999999")
lead([(57, 500), (135, 500), (138, 505)], "#d0d0d0")
lead([(57, 509), (135, 509)], "#87CEFA"); lead([(57, 511), (135, 511)], "#87CEFA")
lead([(67, 527), (128, 527), (175, 463)], "#ff9000")
lead([(53, 555), (190, 555)], "#87CEFA"); lead([(53, 557), (190, 557)], "white"); lead([(53, 559), (135, 559)], "#87CEFA")
lead([(50, 570), (190, 570)], "#999999")
lead([(40, 582), (120, 582)], "#555555")
lead([(75, 594), (135, 594)], "black")
lead([(27, 605), (215, 605), (219, 600)], "#ffb000")
lead([(140, 622), (148, 622), (156, 610)], "black")
# darker upper edge of the precipitation panel and lower edge of the wind-direction panel
lead([(343, 144), (757, 144)], "#777777", 2)
lead([(343, 432), (757, 432)], "#777777", 2)

layout.update(width=W, height=H, autosize=False, margin=dict(l=0, r=0, t=0, b=0, pad=0),
              paper_bgcolor="white", plot_bgcolor="rgba(0,0,0,0)", showlegend=False,
              barmode="overlay", bargap=0, shapes=shapes, annotations=notes,
              font=dict(family=FONT, size=12))
fig.update_layout(**layout)
fig.write_html("out.html", config=dict(displayModeBar=False),
               post_script="document.body.style.margin='0';")
